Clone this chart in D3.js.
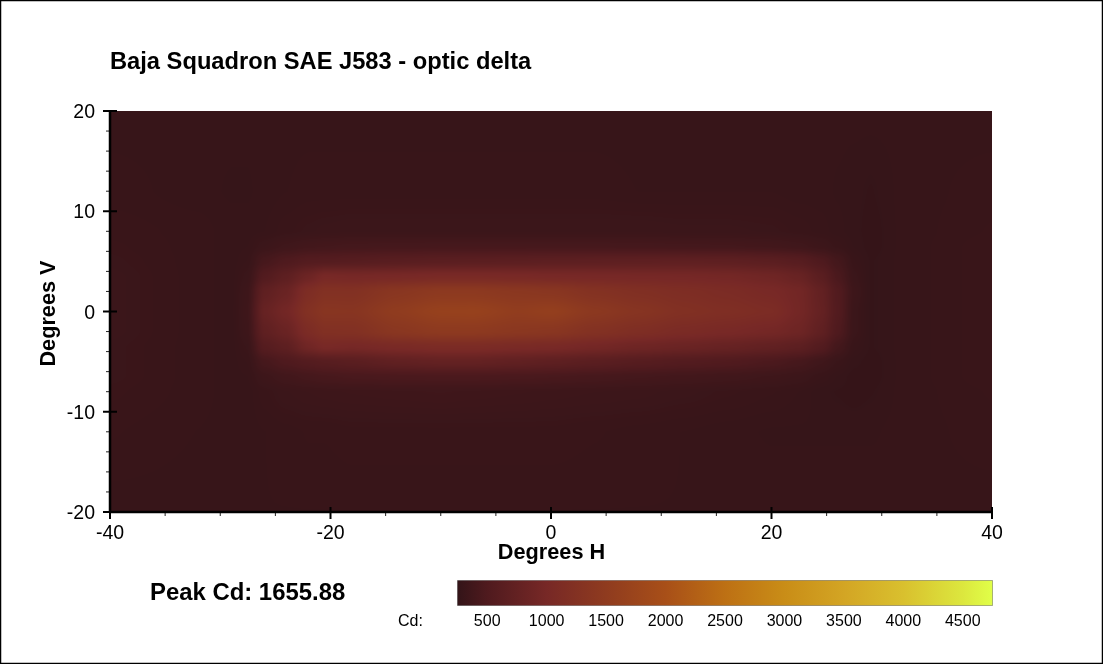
<!DOCTYPE html>
<html><head><meta charset="utf-8">
<style>
html,body{margin:0;padding:0;background:#fff;overflow:hidden}
#wrap{position:relative;width:1103px;height:664px}
canvas{position:absolute}
svg{position:absolute;left:0;top:0}
text{font-family:"Liberation Sans",Arial,sans-serif;fill:#000}
</style></head><body>
<div id="wrap"><canvas id="heat"></canvas><svg id="chart" width="1103" height="664"></svg></div>
<script src="https://cdn.jsdelivr.net/npm/d3@7"></script>
<script>
const titleText = "Baja Squadron SAE J583 - optic delta";
const xLabel = "Degrees H", yLabel = "Degrees V";
const peakText = "Peak Cd: 1655.88", unitLabel = "Cd:";
const xTicks = [-40,-20,0,20,40];
const yTicks = [-20,-10,0,10,20];
const legendTicks = [500,1000,1500,2000,2500,3000,3500,4000,4500];
const cdDomain = [250,4750];
const cdStops = [250,500,1000,1500,2000,2500,3000,3500,4000,4500,4750];
const cdColors = ["#331418","#4f1a1e","#772826","#8f3b1f","#a84f18","#bd7014","#c98d17","#d3a524","#d9c02e","#dce73e","#e0ff48"];

const hDeg = [-40,-32,-29,-27.5,-26,-24,-22,-20.5,-18,-14,-10,-7,-3,0,4,8,12,16,20,22.5,24.5,26,27.5,29,32,40];
const vDeg = [20,12,8,6.5,5,3.5,2,0,-2,-3.5,-5,-6.5,-8,-12,-20];
const cd = [
[285,285,285,285,285,285,285,285,285,285,285,285,285,285,285,285,285,285,285,285,285,285,285,285,285,285],
[295,285,280,280,285,290,295,295,295,295,295,295,295,295,295,290,290,290,290,285,285,280,275,270,285,295],
[305,295,285,285,290,305,315,320,325,325,325,325,325,325,325,325,320,320,315,305,295,285,275,265,285,300],
[310,295,285,290,325,360,385,395,405,410,415,415,415,415,415,410,405,400,385,365,335,305,280,265,285,305],
[315,295,285,300,420,500,560,570,590,620,640,650,660,670,680,690,700,690,650,600,500,400,300,270,285,305],
[320,295,285,320,540,680,870,1010,990,1010,1040,1040,1030,1010,1000,990,980,960,900,810,640,460,320,270,285,305],
[320,295,285,340,700,830,1130,1230,1230,1370,1450,1450,1400,1370,1260,1190,1140,1090,1020,940,750,530,340,270,285,305],
[320,295,285,350,790,950,1230,1340,1330,1510,1640,1650,1540,1590,1420,1310,1210,1160,1100,950,770,540,320,270,285,305],
[320,295,285,340,700,830,1100,1210,1220,1380,1460,1460,1400,1370,1240,1150,1070,1020,960,880,710,500,320,270,285,305],
[315,295,285,315,580,680,920,1020,990,1050,1090,1090,1050,1030,960,890,840,790,730,670,550,400,295,270,285,305],
[315,295,285,300,420,500,560,600,640,720,760,760,720,690,640,590,550,520,470,420,360,310,275,265,285,305],
[315,295,285,290,340,380,410,430,445,455,460,460,450,440,420,400,385,370,350,330,300,280,265,265,285,305],
[310,295,285,285,305,325,335,340,345,350,355,350,345,340,335,330,320,310,300,290,275,270,265,270,285,300],
[300,290,285,285,290,295,300,300,305,305,305,305,305,305,300,295,290,285,280,280,280,280,280,280,285,295],
[285,285,285,285,290,290,290,290,290,290,290,290,290,290,290,290,290,290,290,290,290,290,290,290,285,285]
];

const W=1103,H=664;
const plotLeft=110,plotRight=992,plotTop=111,plotBottom=512;
const x=d3.scaleLinear().domain([-40,40]).range([plotLeft,plotRight]);
const y=d3.scaleLinear().domain([-20,20]).range([plotBottom,plotTop]);
const color=d3.scaleLinear().domain(cdStops).range(cdColors).interpolate(d3.interpolateRgb).clamp(true);
const legX=d3.scaleLinear().domain(cdDomain).range([457.5,992.5]);

const canvas=document.getElementById('heat');
const cw=plotRight-plotLeft, ch=plotBottom-plotTop;
canvas.width=cw;canvas.height=ch;
canvas.style.left=plotLeft+'px';canvas.style.top=plotTop+'px';
const ctx=canvas.getContext('2d');
const img=ctx.createImageData(cw,ch);
const hIdx=d3.scaleLinear().domain(hDeg).range(hDeg.map((d,i)=>i)).clamp(true);
const vIdx=d3.scaleLinear().domain(vDeg).range(vDeg.map((d,i)=>i)).clamp(true);
const smooth=t=>t*t*(3-2*t)*0.6+t*0.4;
for(let py=0;py<ch;py++){
  const fv=vIdx(y.invert(plotTop+py+0.5));
  const j=Math.min(Math.floor(fv),vDeg.length-2), tv=smooth(fv-j);
  for(let px=0;px<cw;px++){
    const fh=hIdx(x.invert(plotLeft+px+0.5));
    const i=Math.min(Math.floor(fh),hDeg.length-2), th=smooth(fh-i);
    const val=(cd[j][i]*(1-th)+cd[j][i+1]*th)*(1-tv)+(cd[j+1][i]*(1-th)+cd[j+1][i+1]*th)*tv;
    const c=d3.rgb(color(val)),k=(py*cw+px)*4;
    img.data[k]=c.r;img.data[k+1]=c.g;img.data[k+2]=c.b;img.data[k+3]=255;
  }
}
ctx.putImageData(img,0,0);

const svg=d3.select('#chart');
svg.append('rect').attr('x',0.5).attr('y',0.5).attr('width',W-1).attr('height',H-1)
  .attr('fill','none').attr('stroke','#000').attr('stroke-width',1.5);

svg.append('text').attr('x',110).attr('y',69).attr('font-size',23.7).attr('font-weight','bold').text(titleText);

const xAxis=svg.append('g').attr('transform',`translate(0,${plotBottom})`);
const xMinor=d3.range(-40,41,5).filter(d=>!xTicks.includes(d));
xAxis.selectAll('line.minor').data(xMinor).join('line').attr('class','minor')
  .attr('x1',d=>x(d)).attr('x2',d=>x(d)).attr('y1',0).attr('y2',4).attr('stroke','#222').attr('stroke-width',1);
xAxis.selectAll('line.major').data(xTicks).join('line').attr('class','major')
  .attr('x1',d=>x(d)).attr('x2',d=>x(d)).attr('y1',-5).attr('y2',7).attr('stroke','#000').attr('stroke-width',2);
xAxis.append('line').attr('x1',plotLeft-1).attr('x2',plotRight+1).attr('y1',0).attr('y2',0).attr('stroke','#000').attr('stroke-width',2.5);
xAxis.selectAll('text').data(xTicks).join('text').attr('x',d=>x(d)).attr('y',27)
  .attr('text-anchor','middle').attr('font-size',19.5).text(d=>d);

const yAxis=svg.append('g').attr('transform',`translate(${plotLeft},0)`);
const yMinor=d3.range(-20,21,2).filter(d=>!yTicks.includes(d));
yAxis.selectAll('line.minor').data(yMinor).join('line').attr('class','minor')
  .attr('x1',-4).attr('x2',0).attr('y1',d=>y(d)).attr('y2',d=>y(d)).attr('stroke','#222').attr('stroke-width',1);
yAxis.selectAll('line.major').data(yTicks).join('line').attr('class','major')
  .attr('x1',-7).attr('x2',7).attr('y1',d=>y(d)).attr('y2',d=>y(d)).attr('stroke','#000').attr('stroke-width',2);
yAxis.append('line').attr('x1',0).attr('x2',0).attr('y1',plotTop-1).attr('y2',plotBottom+1).attr('stroke','#000').attr('stroke-width',2.5);
yAxis.selectAll('text').data(yTicks).join('text').attr('x',-15).attr('y',d=>y(d)+7)
  .attr('text-anchor','end').attr('font-size',19.5).text(d=>d);

svg.append('text').attr('x',551.5).attr('y',559).attr('text-anchor','middle').attr('font-size',21.7).attr('font-weight','bold').text(xLabel);
svg.append('text').attr('transform','translate(55,313.5) rotate(-90)').attr('text-anchor','middle').attr('font-size',21.7).attr('font-weight','bold').text(yLabel);

svg.append('text').attr('x',150).attr('y',600).attr('font-size',23.9).attr('font-weight','bold').text(peakText);

const defs=svg.append('defs');
const grad=defs.append('linearGradient').attr('id','cdGrad').attr('x1','0%').attr('x2','100%').attr('y1','0%').attr('y2','0%');
grad.selectAll('stop').data(cdStops).join('stop')
  .attr('offset',d=>(d-cdDomain[0])/(cdDomain[1]-cdDomain[0])).attr('stop-color',d=>color(d));
svg.append('rect').attr('x',legX(cdDomain[0])).attr('y',580.5).attr('width',legX(cdDomain[1])-legX(cdDomain[0])).attr('height',25)
  .attr('fill','url(#cdGrad)').attr('stroke','#000').attr('stroke-opacity',0.3).attr('stroke-width',1);
svg.selectAll('text.leg').data(legendTicks).join('text').attr('class','leg').attr('x',d=>legX(d)).attr('y',625.5)
  .attr('text-anchor','middle').attr('font-size',16).text(d=>d);
svg.append('text').attr('x',398).attr('y',625.5).attr('font-size',16).text(unitLabel);
</script></body></html>
